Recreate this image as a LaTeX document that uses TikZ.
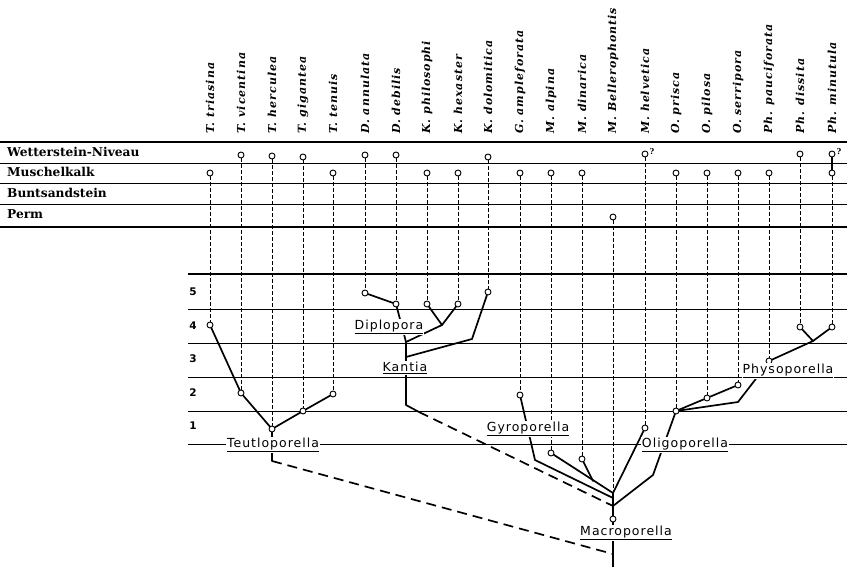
\documentclass[tikz,border=0pt]{standalone}
\usepackage{fontspec}
\setmainfont{DejaVu Serif}
\newfontfamily\spfont[LetterSpace=9]{DejaVu Serif}
\newfontfamily\genfont[LetterSpace=8]{DejaVu Sans}
\newfontfamily\numfont{DejaVu Sans}
\newfontfamily\stratfont{DejaVu Serif}
\begin{document}
\begin{tikzpicture}[x=1pt,y=-1pt,
  thinrule/.style={line width=0.6pt},
  thickrule/.style={line width=1.4pt},
  splabel/.style={anchor=west,rotate=90,inner sep=0pt,font=\spfont\bfseries\itshape\fontsize{11}{12}\selectfont},
  stratlabel/.style={anchor=base west,inner sep=0pt,font=\stratfont\bfseries\fontsize{12.2}{14}\selectfont},
  numlabel/.style={inner sep=0pt,font=\numfont\bfseries\fontsize{10.5}{11}\selectfont},
  oc/.style={circle,draw,fill=white,inner sep=0pt,minimum size=6pt,line width=0.9pt},
  dotv/.style={line width=0.7pt,dash pattern=on 3.5pt off 2.5pt},
  br/.style={line width=1.7pt,line join=round,line cap=round},
  lbr/.style={line width=1.7pt,dash pattern=on 10pt off 6pt},
  genus/.style={fill=white,inner sep=1pt,font=\genfont\fontsize{12.5}{14}\selectfont},
  qmark/.style={anchor=south west,inner sep=0pt,font=\stratfont\bfseries\fontsize{8}{8}\selectfont}
]
\useasboundingbox (0,0) rectangle (847,567);

% ---- stratigraphic table (top) ----
\draw[thickrule] (0,142) -- (847,142);
\draw[thinrule] (0,163) -- (847,163);
\draw[thinrule] (0,183) -- (847,183);
\draw[thinrule] (0,204) -- (847,204);
\draw[thickrule] (0,227) -- (847,227);
\node[stratlabel] (sW) at (7,157) {Wetterstein-Niveau};
\node[stratlabel] (sM) at (7,177) {Muschelkalk};
\node[stratlabel] (sB) at (7,197.5) {Buntsandstein};
\node[stratlabel] (sP) at (7,218.5) {Perm};

% ---- level lines (bottom) ----
\draw[thickrule] (188,274) -- (847,274);
\foreach \yy in {309,343,377,411,444} \draw[thinrule] (188,\yy) -- (847,\yy);
\node[numlabel] (n5) at (193,292) {5};
\node[numlabel] (n4) at (193,326) {4};
\node[numlabel] (n3) at (193,359) {3};
\node[numlabel] (n2) at (193,393) {2};
\node[numlabel] (n1) at (193,426) {1};

% ---- species labels ----
\foreach \x/\n [count=\i] in {210/{T. triasina},241/{T. vicentina},272/{T. herculea},303/{T. gigantea},333/{T. tenuis},365/{D. annulata},396/{D. debilis},427/{K. philosophi},458/{K. hexaster},488/{K. dolomitica},520/{G. ampleforata},551/{M. alpina},582/{M. dinarica},613/{M. Bellerophontis},645/{M. helvetica},676/{O. prisca},707/{O. pilosa},738/{O. serripora},769/{Ph. pauciforata},800/{Ph. dissita},832/{Ph. minutula}}
  \node[splabel] (lab\i) at (\x,134) {\n};

% ---- top occurrence circles ----
\foreach \x/\y [count=\i] in {210/173,241/155,272/156,303/157,333/173,365/155,396/155,427/173,458/173,488/157,520/173,551/173,582/173,613/217,645/154,676/173,707/173,738/173,769/173,800/154,832/154}
  \node[oc] (t\i) at (\x,\y) {};
\node[oc] (t21b) at (832,173) {};
\node[qmark] (q15) at ([xshift=1pt,yshift=-1pt]t15.east) {?};
\node[qmark] (q21) at ([xshift=1pt,yshift=-1pt]t21.east) {?};

% ---- coordinates ----
\coordinate (J1) at (613,493);
\coordinate (J1b) at (613,498);
\coordinate (J2) at (613,506);
\coordinate (tEnd) at (613,567);
\coordinate (teA) at (272,461);
\coordinate (mBot) at (613,554);
\coordinate (dip) at (406,342);
\coordinate (dfork) at (442,325);
\coordinate (kan) at (406,357);
\coordinate (kbend) at (472,339);
\coordinate (kbot) at (406,405);
\coordinate (kb2) at (419,412);
\coordinate (g1) at (535,460);
\coordinate (dm) at (593,481);
\coordinate (o1) at (653,475);
\coordinate (p1) at (738,402);
\coordinate (p2) at (755,380);
\coordinate (pf) at (813,341);

% ---- lower nodes ----
\node[oc] (b1) at (210,325) {};
\node[oc] (b2) at (241,393) {};
\node[oc] (b3) at (272,429) {};
\node[oc] (b4) at (303,411) {};
\node[oc] (b5) at (333,394) {};
\node[oc] (b6) at (365,293) {};
\node[oc] (b7) at (396,304) {};
\node[oc] (b8) at (427,304) {};
\node[oc] (b9) at (458,304) {};
\node[oc] (b10) at (488,292) {};
\node[oc] (b11) at (520,395) {};
\node[oc] (b12) at (551,453) {};
\node[oc] (b13) at (582,459) {};
\node[oc] (b15) at (645,428) {};
\node[oc] (b16) at (676,411) {};
\node[oc] (b17) at (707,398) {};
\node[oc] (b18) at (738,385) {};
\node[oc] (b19) at (769,361) {};
\node[oc] (b20) at (800,327) {};
\node[oc] (b21) at (832,327) {};
\node[oc] (mac) at (613,519) {};

% ---- dotted verticals ----
\foreach \i in {1,...,13,15,16,17,18,19,20} \draw[dotv] (t\i) -- (b\i);
\draw[dotv] (t14) -- (J1);
\draw[dotv] (t21b) -- (b21);
\draw[line width=1.2pt] (t21) -- (t21b);

% ---- Teutloporella ----
\draw[br] (b1) -- (b2) -- (b3) -- (b4) -- (b5);
\draw[br] (b3) -- (teA);
\draw[lbr] (teA) -- (mBot);

% ---- Diplopora / Kantia ----
\draw[br] (b6) -- (b7) -- (dip) -- (kan);
\draw[br] (dip) -- (dfork) -- (b8);
\draw[br] (dfork) -- (b9);
\draw[br] (kan) -- (kbend) -- (b10);
\draw[br] (kan) -- (kbot) -- (kb2);
\draw[lbr] (kb2) -- (J2);

% ---- Gyroporella / Macroporella ----
\draw[br] (b11) -- (g1) -- (J1b);
\draw[br] (b12) -- (J1);
\draw[br] (b13) -- (dm);
\draw[br] (b15) -- (J1);
\draw[br] (J1) -- (mac) -- (tEnd);

% ---- Oligoporella / Physoporella ----
\draw[br] (J2) -- (o1) -- (b16);
\draw[br] (b16) -- (b17) -- (b18);
\draw[br] (b16) -- (p1) -- (p2) -- (b19) -- (pf) -- (b20);
\draw[br] (pf) -- (b21);

% ---- genus labels ----
\node[genus] (gT) at (273,445) {\underline{Teutloporella}};
\node[genus] (gD) at (389,327) {\underline{Diplopora}};
\node[genus] (gK) at (405,368) {\underline{Kantia}};
\node[genus] (gG) at (528,429) {\underline{Gyroporella}};
\node[genus] (gO) at (685,445) {\underline{Oligoporella}};
\node[genus] (gP) at (788,371) {\underline{Physoporella}};
\node[genus] (gM) at (626,533) {\underline{Macroporella}};
\end{tikzpicture}
\end{document}
